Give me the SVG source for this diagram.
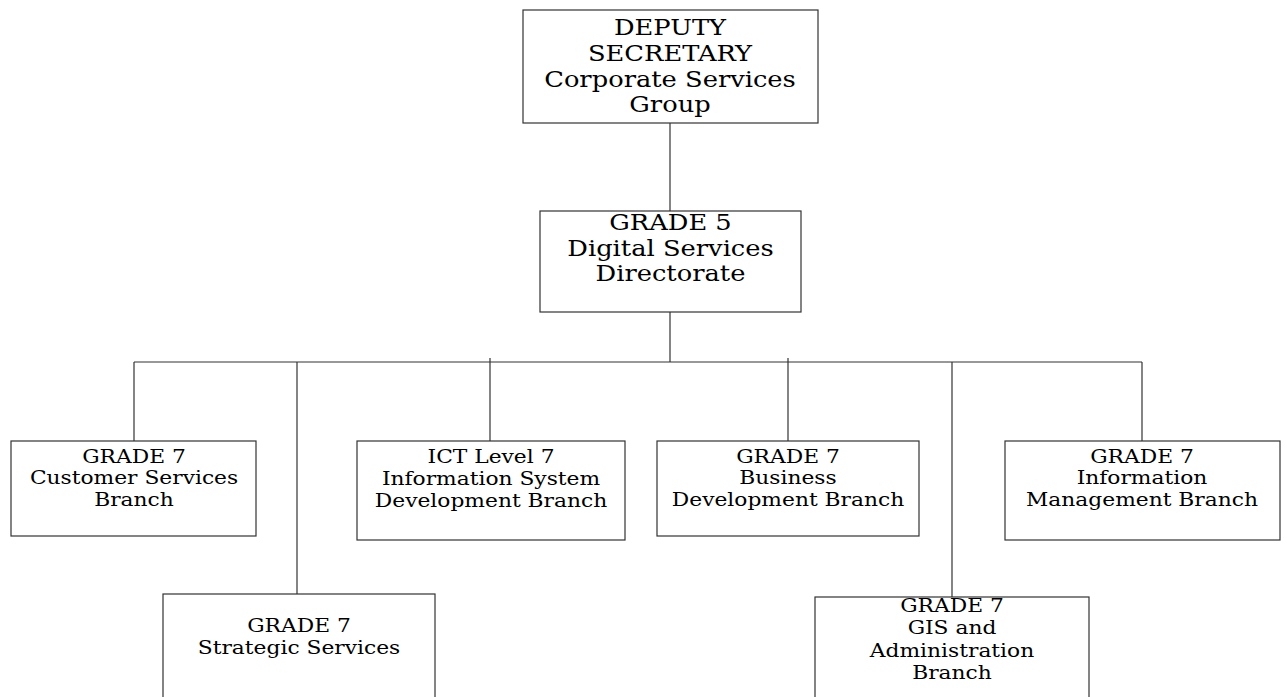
<svg xmlns="http://www.w3.org/2000/svg" width="1287" height="697" viewBox="0 0 1287 697">
<style>
.box{fill:#fff;stroke:#333;stroke-width:1.2}
.ln{stroke:#333;stroke-width:1.2;fill:none}
text{font-family:"DejaVu Serif","Liberation Serif",serif;fill:#000;text-anchor:middle}
.big{font-size:22px}
.sm{font-size:18px}
</style>
<rect width="1287" height="697" fill="#fff"/>
<g id="connectors">
<line class="ln" x1="670" y1="123" x2="670" y2="211"/>
<line class="ln" x1="670" y1="312" x2="670" y2="362"/>
<line class="ln" x1="134" y1="362" x2="1142" y2="362"/>
<line class="ln" x1="134" y1="362" x2="134" y2="441"/>
<line class="ln" x1="297" y1="362" x2="297" y2="615"/>
<line class="ln" x1="490" y1="358" x2="490" y2="441"/>
<line class="ln" x1="788" y1="358" x2="788" y2="441"/>
<line class="ln" x1="952" y1="362" x2="952" y2="597"/>
<line class="ln" x1="1142" y1="362" x2="1142" y2="441"/>
</g>
<g id="deputy">
<rect class="box" x="523" y="10" width="295" height="113"/>
<g transform="translate(670,0) scale(1.17,1)">
<text class="big" x="0" y="35">DEPUTY</text>
<text class="big" x="0" y="61">SECRETARY</text>
<text class="big" x="0" y="87">Corporate Services</text>
<text class="big" x="0" y="112">Group</text>
</g>
</g>
<g id="grade5">
<rect class="box" x="540" y="211" width="261" height="101"/>
<g transform="translate(670.5,0) scale(1.17,1)">
<text class="big" x="0" y="230">GRADE 5</text>
<text class="big" x="0" y="256">Digital Services</text>
<text class="big" x="0" y="281">Directorate</text>
</g>
</g>
<g id="customer">
<rect class="box" x="11" y="441" width="245" height="95"/>
<g transform="translate(134,0) scale(1.21,1)">
<text class="sm" x="0" y="463">GRADE 7</text>
<text class="sm" x="0" y="484">Customer Services</text>
<text class="sm" x="0" y="506">Branch</text>
</g>
</g>
<g id="ict">
<rect class="box" x="357" y="441" width="268" height="99"/>
<g transform="translate(491,0) scale(1.21,1)">
<text class="sm" x="0" y="463">ICT Level 7</text>
<text class="sm" x="0" y="485">Information System</text>
<text class="sm" x="0" y="507">Development Branch</text>
</g>
</g>
<g id="business">
<rect class="box" x="657" y="441" width="262" height="95"/>
<g transform="translate(788,0) scale(1.21,1)">
<text class="sm" x="0" y="463">GRADE 7</text>
<text class="sm" x="0" y="484">Business</text>
<text class="sm" x="0" y="506">Development Branch</text>
</g>
</g>
<g id="infomgmt">
<rect class="box" x="1005" y="441" width="275" height="99"/>
<g transform="translate(1142,0) scale(1.21,1)">
<text class="sm" x="0" y="463">GRADE 7</text>
<text class="sm" x="0" y="484">Information</text>
<text class="sm" x="0" y="506">Management Branch</text>
</g>
</g>
<g id="strategic">
<rect class="box" x="163" y="594" width="272" height="120"/>
<g transform="translate(299,0) scale(1.21,1)">
<text class="sm" x="0" y="632">GRADE 7</text>
<text class="sm" x="0" y="654">Strategic Services</text>
</g>
</g>
<g id="gis">
<rect class="box" x="815" y="597" width="274" height="120"/>
<g transform="translate(952,0) scale(1.21,1)">
<text class="sm" x="0" y="612">GRADE 7</text>
<text class="sm" x="0" y="634">GIS and</text>
<text class="sm" x="0" y="657">Administration</text>
<text class="sm" x="0" y="679">Branch</text>
</g>
</g>
</svg>
